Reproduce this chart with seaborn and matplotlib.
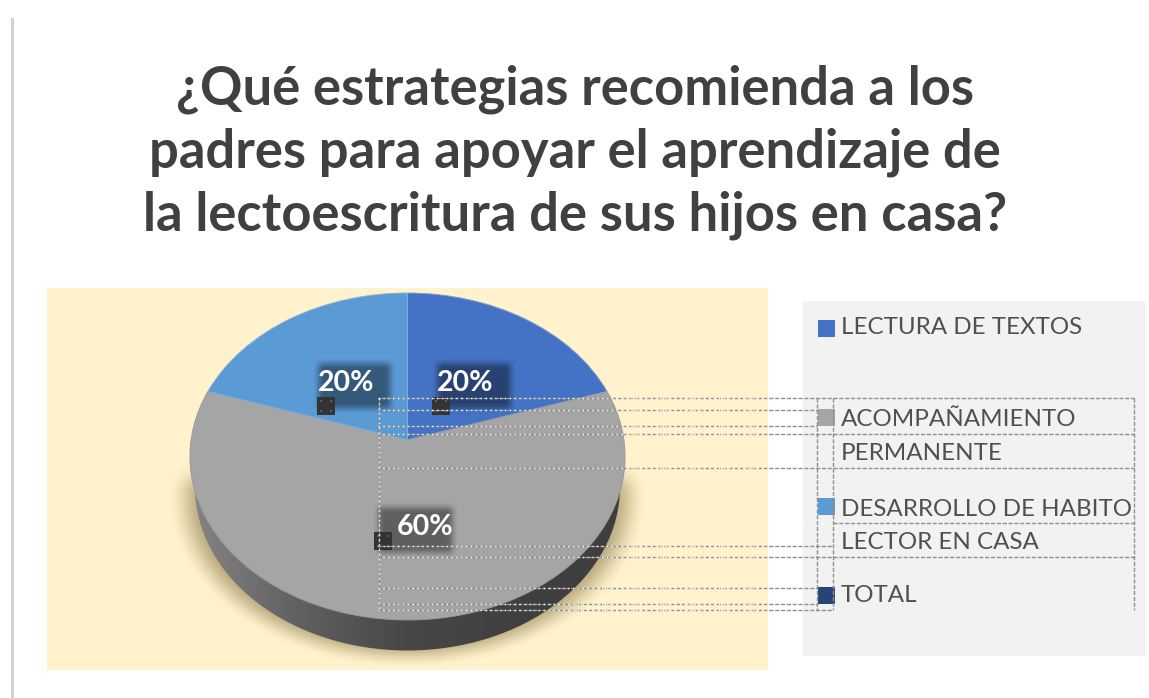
import numpy as np
import seaborn as sns
import matplotlib
matplotlib.use("Agg")
import matplotlib.pyplot as plt
from matplotlib.colors import LinearSegmentedColormap
from matplotlib.patches import Ellipse, Rectangle
from matplotlib.transforms import Transform

# Daten
titulo = "¿Qué estrategias recomienda a los\npadres para apoyar el aprendizaje de\nla lectoescritura de sus hijos en casa?"
categorias = ["LECTURA DE TEXTOS", "ACOMPAÑAMIENTO\nPERMANENTE", "DESARROLLO DE HABITO\nLECTOR EN CASA", "TOTAL"]
valores = [20, 60, 20, 0]
colores = ["#4472c4", "#a5a5a5", "#5b9bd5", "#264478"]

ANCHO, ALTO = 1149, 698

sns.set_theme(style="white")
plt.rcParams['font.family'] = ['Lato', 'DejaVu Sans']


class Perspectiva(Transform):
    # la tarta 3D: circulo visto en perspectiva
    input_dims = 2
    output_dims = 2
    c = -0.1009

    def transform_non_affine(self, v):
        v = np.asarray(v, dtype=float)
        d = 1 - self.c * v[:, 1]
        return np.column_stack([v[:, 0] / d, v[:, 1] / d])


def suave(a):
    a = np.clip(a, 0, 1)
    return a * a * (3 - 2 * a)


def caja_oscura(ax, x0, x1, y0, y1, alfa):
    # caja difuminada detras de las etiquetas
    xx, yy = np.meshgrid(np.arange(x0 - 6, x1 + 6), np.arange(y0 - 6, y1 + 6))
    m = suave((xx - x0 + 6) / 12) * suave((x1 + 6 - xx) / 12) * suave((yy - y0 + 6) / 12) * suave((y1 + 6 - yy) / 12)
    img = np.zeros(xx.shape + (4,))
    img[..., 3] = m * alfa
    ax.imshow(img, extent=(x0 - 6, x1 + 6, y1 + 6, y0 - 6), aspect='auto', interpolation='bilinear')


fig = plt.figure(figsize=(ANCHO / 100, ALTO / 100), dpi=100, facecolor='white')

# capa de fondo en pixeles
fondo = fig.add_axes([0, 0, 1, 1], zorder=0)
fondo.axis('off')
fondo.add_patch(Rectangle((47, 288), 721, 382, color='#fff2cc', lw=0))
fondo.add_patch(Rectangle((803, 301), 342, 355, color='#f2f2f2', lw=0))
fondo.add_patch(Rectangle((11, 18), 3, 680, color='#d2d2d2', lw=0))

# sombra de la tarta
xx, yy = np.meshgrid(np.arange(150, 670), np.arange(440, 680))
d = np.sqrt(((xx - 407) / 240) ** 2 + ((yy - 498) / 170) ** 2)
sombra = np.zeros(xx.shape + (4,))
sombra[..., 0], sombra[..., 1], sombra[..., 2] = 0.42, 0.35, 0.15
sombra[..., 3] = 0.5 * suave((1 - d) / 0.16) * suave((yy - 462) / 30)
fondo.imshow(sombra, extent=(150, 670, 680, 440), aspect='auto', zorder=2)

# canto de la tarta con degradado
cmap = LinearSegmentedColormap.from_list('canto', ['#858585', '#606060', '#474747', '#404040', '#3e3e3e'])
canto = fondo.imshow(np.linspace(0, 1, 256).reshape(1, -1), cmap=cmap, extent=(190, 625, 660, 470), aspect='auto', zorder=3)
canto.set_clip_path(Ellipse((407.5, 487), 425, 327, transform=fondo.transData))

fondo.set_xlim(0, ANCHO)
fondo.set_ylim(ALTO, 0)

fondo.text(575, 152, titulo, ha='center', va='center', fontsize=37.8, fontweight='bold',
           color='#404040', linespacing=1.335)

# tarta
A, B = 216.4, 161.8
ax = fig.add_axes([(407.5 - 1.25 * A) / ANCHO, 1 - (440 + 1.25 * B) / ALTO, 2.5 * A / ANCHO, 2.5 * B / ALTO],
                  zorder=1)
wedges, _, autotexts = ax.pie(valores, colors=sns.color_palette(colores), startangle=90, counterclock=False,
                              autopct=lambda p: f"{p:.0f}%" if p > 0 else "", pctdistance=0.45,
                              textprops={'color': 'white', 'fontweight': 'bold', 'fontsize': 20.5})
ax.set_aspect('auto')
ax.set_xlim(-1.25, 1.25)
ax.set_ylim(-1.25, 1.25)
persp = Perspectiva() + ax.transData
for w, borde in zip(wedges, ['#7f9cd6', '#9a9a9a', '#7fb0de', 'none']):
    w.set_transform(persp)
    w.set_edgecolor(borde)
    w.set_linewidth(0.7)

# capa superior: cajas, asas y lineas de seleccion
capa = fig.add_axes([0, 0, 1, 1], zorder=2)
capa.axis('off')
capa.patch.set_alpha(0)
caja_oscura(capa, 318, 390, 363, 408, 0.42)
caja_oscura(capa, 437, 510, 363, 408, 0.42)
caja_oscura(capa, 378, 452, 507, 552, 0.42)

for x, y in [(325.5, 406), (441, 406), (383, 540.5)]:
    capa.add_patch(Rectangle((x - 9, y - 9), 18, 18, color='#333333', lw=0))
    for dx in (-5, 5):
        for dy in (-5, 5):
            capa.add_patch(Rectangle((x + dx - 1, y + dy - 1), 2, 2, color='#5c5c5c', lw=0))

lineas_h = [(378, 1134, 398), (378, 817, 409.5), (378, 817, 426), (378, 1134, 434), (378, 1134, 468),
            (833, 1134, 522.5), (378, 833, 545.5), (378, 1134, 557), (378, 817, 587.5),
            (378, 817, 603.5), (378, 833, 610)]
for x0, x1, y in lineas_h:
    capa.plot([x0, x1], [y, y], color='#8f8f8f', lw=1.0, ls=(0, (3, 1.2)))
    capa.plot([x0, min(x1, 768)], [y, y], color='white', lw=1.0, ls=(0, (1, 2.5)))
for x in (378.5, 817, 833, 1134):
    capa.plot([x, x], [398, 610], color='#8f8f8f', lw=1.0, ls=(0, (3, 1.2)))
capa.plot([378.5, 378.5], [398, 610], color='white', lw=1.0, ls=(0, (1, 2.5)))

# leyenda
y_leyenda = [328, 417, 506.5, 595.5]
for cat, col, y in zip(categorias, colores, y_leyenda):
    capa.add_patch(Rectangle((817.5, y - 8.5), 17, 17, color=col, lw=0))
    extra = 36 * cat.count("\n")
    capa.text(841, y + 6.5 + extra, cat, ha='left', va='baseline', fontsize=17.4, color='#505050', linespacing=1.72)

capa.set_xlim(0, ANCHO)
capa.set_ylim(ALTO, 0)

# las etiquetas van por encima de las cajas
correccion = [(0.01, 0), (0.075, -0.06), (-0.03, 0), (0, 0)]
for t, (dx, dy) in zip(autotexts, correccion):
    x, y = t.get_position()
    t.set_position((x + dx, y + dy))
    t.set_transform(persp)
    t.remove()
    fig.add_artist(t)
    t.set_zorder(5)

fig.savefig("out.png", dpi=100)
